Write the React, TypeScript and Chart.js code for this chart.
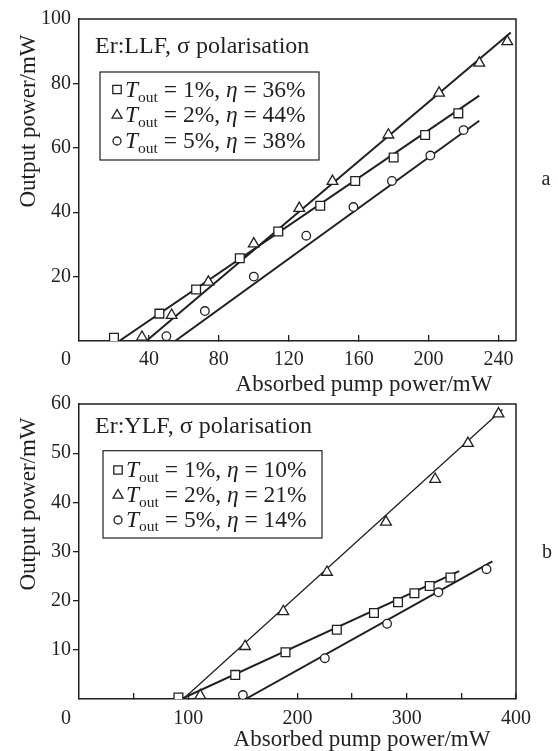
import React, { useEffect, useRef } from 'react';
import { Chart, registerables } from 'chart.js';

Chart.register(...registerables);

const INK = '#231f20';
const FONT = '"Liberation Serif", "Times New Roman", serif';

// ---------- Panel a: Er:LLF ----------
const llfPump1 = [20, 46, 67, 92, 114, 138, 158, 180, 198, 217];
const llfOut1 = [1, 8.5, 16, 25.7, 34, 42, 49.7, 57, 64, 70.7];
const llfPump2 = [36, 53, 74, 100, 126, 145, 177, 206, 229, 245];
const llfOut2 = [1.2, 8, 18.3, 30.2, 41.2, 49.6, 64, 77, 86.3, 93];
const llfPump5 = [50, 72, 100, 130, 157, 179, 201, 220];
const llfOut5 = [1.5, 9.3, 20, 32.7, 41.6, 49.7, 57.6, 65.5];
const llfFit1X = [23, 229];
const llfFit1Y = [0, 76.2];
const llfFit2X = [38.5, 247];
const llfFit2Y = [0, 95.8];
const llfFit5X = [55, 229];
const llfFit5Y = [0, 68.4];
const llfXTicks = [40, 80, 120, 160, 200, 240];
const llfXLabels = [40, 80, 120, 160, 200, 240];
const llfYTicks = [20, 40, 60, 80, 100];
const llfTout = ['1', '2', '5'];
const llfEta = ['36', '44', '38'];

// ---------- Panel b: Er:YLF ----------
const ylfPump1 = [91, 143, 189, 236, 270, 292, 307, 321, 340];
const ylfOut1 = [0.3, 4.9, 9.5, 14.1, 17.5, 19.7, 21.5, 23, 24.7];
const ylfPump2 = [111, 152, 187, 227, 281, 326, 356, 384];
const ylfOut2 = [0.7, 10.7, 17.8, 25.8, 36, 44.7, 52, 58];
const ylfPump5 = [150, 225, 282, 329, 373];
const ylfOut5 = [0.8, 8.3, 15.3, 21.7, 26.4];
const ylfFit1X = [93.7, 348];
const ylfFit1Y = [0, 26];
const ylfFit2X = [95.4, 387.6];
const ylfFit2Y = [0, 58.9];
const ylfFit5X = [152.5, 378.4];
const ylfFit5Y = [0, 28];
const ylfXTicks = [50, 100, 150, 200, 250, 300, 350, 400];
const ylfXLabels = [100, 200, 300, 400];
const ylfYTicks = [10, 20, 30, 40, 50, 60];
const ylfTout = ['1', '2', '5'];
const ylfEta = ['10', '21', '14'];

const markerStyles = ['rect', 'triangle', 'circle'] as const;

const zip = (xs: number[], ys: number[]) => xs.map((x, i) => ({ x, y: ys[i] }));

function drawMarker(ctx: CanvasRenderingContext2D, style: string, x: number, y: number) {
  ctx.save();
  ctx.fillStyle = '#fff';
  ctx.strokeStyle = INK;
  ctx.lineWidth = 1.3;
  ctx.beginPath();
  if (style === 'rect') {
    ctx.rect(x - 4.2, y - 4.2, 8.4, 8.4);
  } else if (style === 'triangle') {
    ctx.moveTo(x, y - 5.5);
    ctx.lineTo(x + 5, y + 3.2);
    ctx.lineTo(x - 5, y + 3.2);
    ctx.closePath();
  } else {
    ctx.arc(x, y, 4, 0, Math.PI * 2);
  }
  ctx.fill();
  ctx.stroke();
  ctx.restore();
}

type Decor = {
  letter: string;
  letterX: number;
  letterY: number;
  yTitleX: number;
  yTitleY: number;
  xTitleX: number;
  xTitleBase: number;
  zeroX: number;
  zeroY: number;
  subtitle: string;
  subX: number;
  subBase: number;
  box: [number, number, number, number];
  markX: number;
  textX: number;
  markYs: number[];
  baseYs: number[];
  tout: string[];
  eta: string[];
};

function makeDecor(d: Decor) {
  return {
    id: 'decor',
    afterDraw(chart: any) {
      const ctx: CanvasRenderingContext2D = chart.ctx;
      const ca = chart.chartArea;
      ctx.save();
      ctx.strokeStyle = INK;
      ctx.lineWidth = 1.5;
      ctx.beginPath();
      ctx.moveTo(ca.left, ca.top);
      ctx.lineTo(ca.right, ca.top);
      ctx.lineTo(ca.right, ca.bottom);
      ctx.stroke();

      ctx.fillStyle = INK;
      // y title
      ctx.save();
      ctx.translate(d.yTitleX, d.yTitleY);
      ctx.rotate(-Math.PI / 2);
      ctx.font = `23px ${FONT}`;
      ctx.textAlign = 'center';
      ctx.textBaseline = 'middle';
      ctx.fillText('Output power/mW', 0, 0);
      ctx.restore();

      // x title
      ctx.font = `23px ${FONT}`;
      ctx.textAlign = 'center';
      ctx.textBaseline = 'alphabetic';
      ctx.fillText('Absorbed pump power/mW', d.xTitleX, d.xTitleBase);

      // corner zero and panel letter
      ctx.font = `20px ${FONT}`;
      ctx.textBaseline = 'middle';
      ctx.fillText('0', d.zeroX, d.zeroY);
      ctx.fillText(d.letter, d.letterX, d.letterY);

      // subtitle
      ctx.textAlign = 'left';
      ctx.textBaseline = 'alphabetic';
      ctx.font = `24px ${FONT}`;
      ctx.fillText(d.subtitle, d.subX, d.subBase);

      // legend box
      ctx.lineWidth = 1.2;
      ctx.strokeRect(d.box[0], d.box[1], d.box[2], d.box[3]);
      const size = 23.5;
      for (let i = 0; i < 3; i++) {
        drawMarker(ctx, markerStyles[i], d.markX, d.markYs[i]);
        let cx = d.textX;
        const base = d.baseYs[i];
        const seg = (text: string, style: string, sz: number, dy = 0) => {
          ctx.font = `${style} ${sz}px ${FONT}`;
          ctx.fillText(text, cx, base + dy);
          cx += ctx.measureText(text).width;
        };
        seg('T', 'italic', size);
        seg('out', 'normal', size * 0.66, size * 0.2);
        seg(` = ${d.tout[i]}%, `, 'normal', size);
        seg('η', 'italic', size);
        seg(` = ${d.eta[i]}%`, 'normal', size);
      }
      ctx.restore();
    },
  };
}

type Series = {
  x: number[];
  y: number[];
  fitX: number[];
  fitY: number[];
  fitWidth: number;
};

type PanelProps = {
  top: number;
  height: number;
  layoutTop: number;
  xAxisHeight: number;
  xTickPad: number;
  xMax: number;
  yMax: number;
  xTicks: number[];
  xLabels: number[];
  yTicks: number[];
  series: Series[];
  decor: Decor;
};

function Panel(p: PanelProps) {
  const ref = useRef<HTMLCanvasElement | null>(null);
  useEffect(() => {
    if (!ref.current) return;
    const pointSets = p.series.map((s, i) => ({
      data: zip(s.x, s.y),
      showLine: false,
      pointStyle: markerStyles[i],
      pointRadius: markerStyles[i] === 'circle' ? 4.3 : 6.2,
      pointBackgroundColor: '#fff',
      pointBorderColor: INK,
      pointBorderWidth: 1.3,
      order: 0,
    }));
    const lineSets = p.series.map((s) => ({
      data: zip(s.fitX, s.fitY),
      showLine: true,
      pointRadius: 0,
      borderColor: INK,
      borderWidth: s.fitWidth,
      fill: false,
      order: 1,
    }));
    const chart = new Chart(ref.current, {
      type: 'scatter',
      data: { datasets: [...pointSets, ...lineSets] as any },
      options: {
        animation: false,
        responsive: false,
        events: [],
        layout: { padding: { left: 0, right: 42, top: p.layoutTop, bottom: 0 } },
        plugins: { legend: { display: false }, tooltip: { enabled: false } },
        scales: {
          x: {
            type: 'linear',
            min: 0,
            max: p.xMax,
            afterFit: (s: any) => {
              s.height = p.xAxisHeight;
            },
            afterBuildTicks: (s: any) => {
              s.ticks = p.xTicks.map((v) => ({ value: v }));
            },
            ticks: {
              autoSkip: false,
              maxRotation: 0,
              minRotation: 0,
              padding: p.xTickPad,
              color: INK,
              font: { family: FONT, size: 20 },
              callback: (v: any) => (p.xLabels.includes(Number(v)) ? String(v) : ''),
            },
            grid: {
              display: true,
              drawOnChartArea: false,
              drawTicks: true,
              tickLength: -6,
              color: INK,
              lineWidth: 1.3,
            },
            border: { display: true, color: INK, width: 1.5 },
          },
          y: {
            type: 'linear',
            min: 0,
            max: p.yMax,
            afterFit: (s: any) => {
              s.width = 79;
            },
            afterBuildTicks: (s: any) => {
              s.ticks = p.yTicks.map((v) => ({ value: v }));
            },
            ticks: {
              autoSkip: false,
              padding: 2,
              color: INK,
              font: { family: FONT, size: 20 },
              callback: (v: any) => String(v),
            },
            grid: {
              display: true,
              drawOnChartArea: false,
              drawTicks: true,
              tickLength: 6,
              color: (c: any) => (c.tick && c.tick.value === p.yMax ? 'rgba(0,0,0,0)' : INK),
              lineWidth: 1.3,
            },
            border: { display: true, color: INK, width: 1.5 },
          },
        },
      } as any,
      plugins: [makeDecor(p.decor)],
    });
    return () => chart.destroy();
  }, []);
  return (
    <canvas
      ref={ref}
      width={558}
      height={p.height}
      style={{ position: 'absolute', left: 0, top: p.top, width: 558, height: p.height, display: 'block' }}
    />
  );
}

export default function App() {
  const llfSeries: Series[] = [
    { x: llfPump1, y: llfOut1, fitX: llfFit1X, fitY: llfFit1Y, fitWidth: 2 },
    { x: llfPump2, y: llfOut2, fitX: llfFit2X, fitY: llfFit2Y, fitWidth: 2 },
    { x: llfPump5, y: llfOut5, fitX: llfFit5X, fitY: llfFit5Y, fitWidth: 2 },
  ];
  const ylfSeries: Series[] = [
    { x: ylfPump1, y: ylfOut1, fitX: ylfFit1X, fitY: ylfFit1Y, fitWidth: 2 },
    { x: ylfPump2, y: ylfOut2, fitX: ylfFit2X, fitY: ylfFit2Y, fitWidth: 1.3 },
    { x: ylfPump5, y: ylfOut5, fitX: ylfFit5X, fitY: ylfFit5Y, fitWidth: 2 },
  ];
  return (
    <div style={{ position: 'absolute', left: 0, top: 0, width: 558, height: 751, background: '#fff' }}>
      <Panel
        top={0}
        height={400}
        layoutTop={19}
        xAxisHeight={59}
        xTickPad={13}
        xMax={250}
        yMax={100}
        xTicks={llfXTicks}
        xLabels={llfXLabels}
        yTicks={llfYTicks}
        series={llfSeries}
        decor={{
          letter: 'a',
          letterX: 546,
          letterY: 180,
          yTitleX: 29,
          yTitleY: 121,
          xTitleX: 364,
          xTitleBase: 391,
          zeroX: 66,
          zeroY: 360,
          subtitle: 'Er:LLF, σ polarisation',
          subX: 95,
          subBase: 53.3,
          box: [100, 72, 219, 88],
          markX: 117,
          textX: 125,
          markYs: [89.5, 115, 141],
          baseYs: [97.3, 122.3, 147.8],
          tout: llfTout,
          eta: llfEta,
        }}
      />
      <Panel
        top={390}
        height={361}
        layoutTop={13}
        xAxisHeight={52}
        xTickPad={13.5}
        xMax={400}
        yMax={60}
        xTicks={ylfXTicks}
        xLabels={ylfXLabels}
        yTicks={ylfYTicks}
        series={ylfSeries}
        decor={{
          letter: 'b',
          letterX: 547,
          letterY: 163,
          yTitleX: 29,
          yTitleY: 114,
          xTitleX: 362,
          xTitleBase: 356,
          zeroX: 66,
          zeroY: 328.5,
          subtitle: 'Er:YLF, σ polarisation',
          subX: 95,
          subBase: 43.3,
          box: [103, 60.7, 219, 87.3],
          markX: 118,
          textX: 126,
          markYs: [80, 105, 130],
          baseYs: [87.3, 112.3, 136.7],
          tout: ylfTout,
          eta: ylfEta,
        }}
      />
    </div>
  );
}
